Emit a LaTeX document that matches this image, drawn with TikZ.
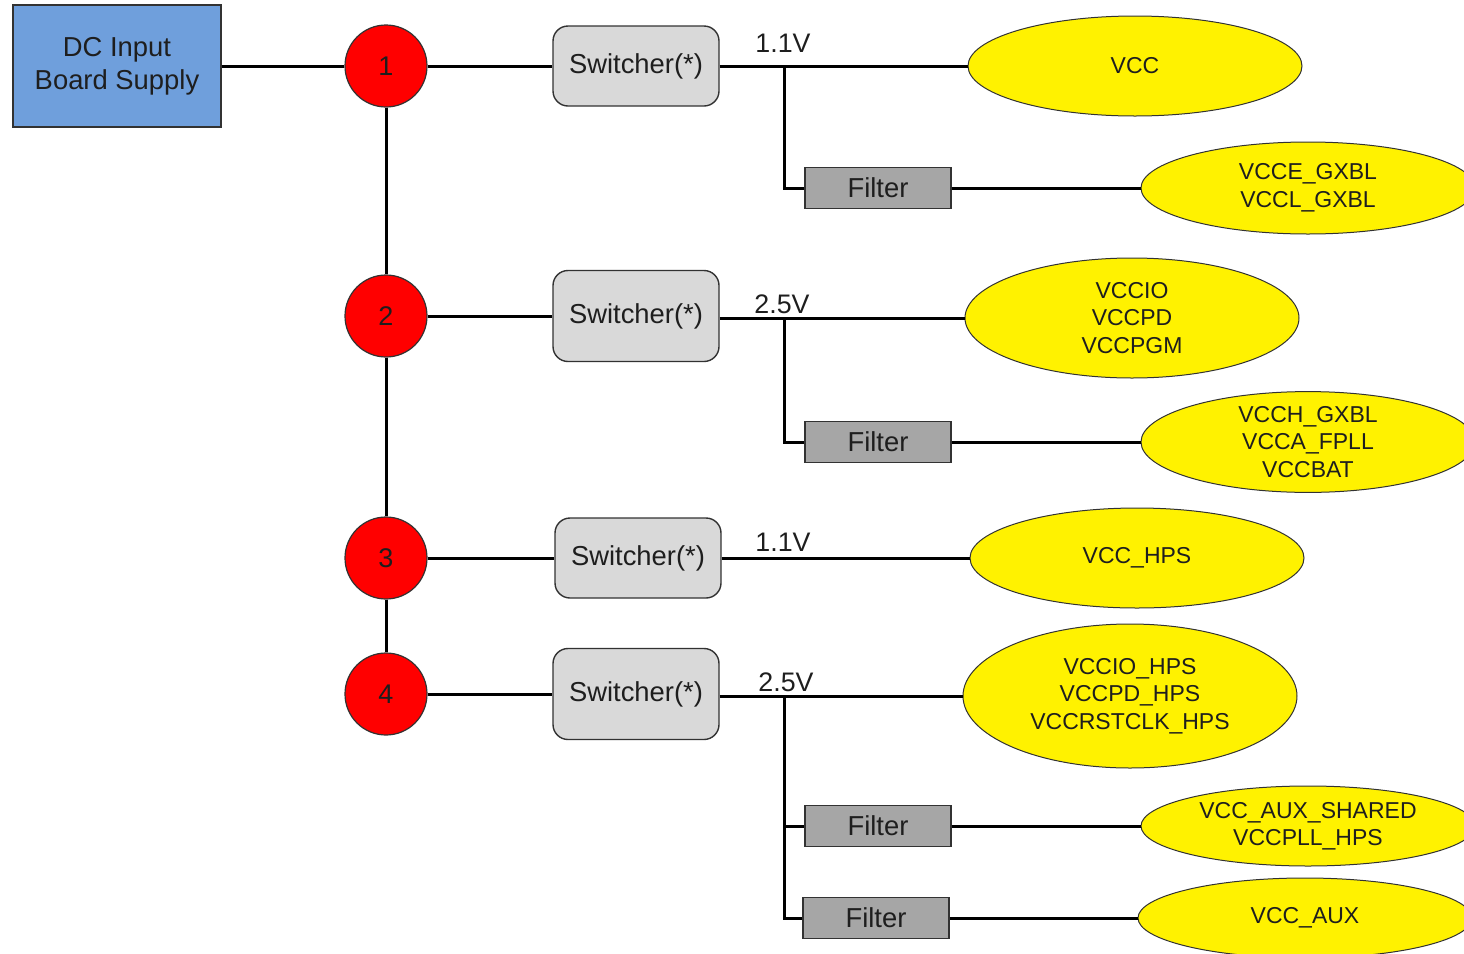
\documentclass[tikz,border=0pt]{standalone}
\usepackage{fontspec}
\setmainfont{Liberation Sans}
\usetikzlibrary{shapes.geometric}
\definecolor{boxblue}{RGB}{111,159,220}
\definecolor{swgray}{RGB}{217,217,217}
\definecolor{filgray}{RGB}{166,166,166}
\definecolor{txt}{RGB}{30,30,30}
\definecolor{edge}{RGB}{50,50,50}
\tikzset{
  x=0.5pt, y=-0.5pt,
  every node/.style={text=txt, align=center, inner sep=0pt},
  wire/.style={line width=1.5pt, black},
  dcbox/.style={draw=edge, line width=0.7pt, fill=boxblue, minimum width=104pt, minimum height=61pt, font=\fontsize{13.7}{16.5}\selectfont},
  railnode/.style={circle, draw=edge, line width=0.6pt, fill=red, minimum size=41pt, font=\fontsize{13.5}{16}\selectfont},
  swbox/.style={draw=edge, line width=0.7pt, fill=swgray, rounded corners=7.5pt, minimum width=83pt, font=\fontsize{13.7}{16}\selectfont},
  filbox/.style={draw=edge, line width=0.7pt, fill=filgray, minimum width=73pt, minimum height=20.5pt, font=\fontsize{13.7}{16}\selectfont},
  load/.style={ellipse, draw=edge, line width=0.5pt, fill=yellow, minimum width=167pt, font=\fontsize{11.5}{13.75}\selectfont},
  volt/.style={font=\fontsize{13.4}{16}\selectfont}
}
\begin{document}
\begin{tikzpicture}
\useasboundingbox (0,0) rectangle (1464,954);
% source and rails
\node[dcbox] (dc) at (117,66) {DC Input\\Board Supply};
\node[railnode] (c1) at (386,66) {1};
\node[railnode] (c2) at (386,316) {2};
\node[railnode] (c3) at (386,558) {3};
\node[railnode] (c4) at (386,694) {4};
% switchers
\node[swbox, minimum height=40pt] (sw1) at (636,66) {Switcher(*)};
\node[swbox, minimum height=45.5pt] (sw2) at (636,316) {Switcher(*)};
\node[swbox, minimum height=40pt] (sw3) at (638,558) {Switcher(*)};
\node[swbox, minimum height=45.5pt] (sw4) at (636,694) {Switcher(*)};
% voltage labels
\node[volt] (v1) at (783,43) {1.1V};
\node[volt] (v2) at (782,304) {2.5V};
\node[volt] (v3) at (783,542) {1.1V};
\node[volt] (v4) at (786,682) {2.5V};
% filters
\node[filbox] (f1) at (878,188) {Filter};
\node[filbox] (f2) at (878,442) {Filter};
\node[filbox] (f3) at (878,826) {Filter};
\node[filbox] (f4) at (876,918) {Filter};
% loads
\node[load, minimum height=50pt] (e1) at (1135,66) {VCC};
\node[load, minimum height=46pt] (e2) at (1308,188) {VCCE\_GXBL\\VCCL\_GXBL};
\node[load, minimum height=60pt] (e3) at (1132,318) {VCCIO\\VCCPD\\VCCPGM};
\node[load, minimum height=50pt] (e4) at (1308,442) {VCCH\_GXBL\\VCCA\_FPLL\\VCCBAT};
\node[load, minimum height=50pt] (e5) at (1137,558) {VCC\_HPS};
\node[load, minimum height=72pt] (e6) at (1130,696) {VCCIO\_HPS\\VCCPD\_HPS\\VCCRSTCLK\_HPS};
\node[load, minimum height=40pt] (e7) at (1308,826) {VCC\_AUX\_SHARED\\VCCPLL\_HPS};
\node[load, minimum height=40pt] (e8) at (1305,918) {VCC\_AUX};
% junction points
\coordinate (j1) at (784,66);
\coordinate (j2) at (784,318);
\coordinate (j4) at (784,696);
% wires
\draw[wire] (dc.east) -- (c1.west);
\draw[wire] (c1.south) -- (c2.north);
\draw[wire] (c2.south) -- (c3.north);
\draw[wire] (c3.south) -- (c4.north);
\draw[wire] (c1.east) -- (sw1.west);
\draw[wire] (c2.east) -- (sw2.west);
\draw[wire] (c3.east) -- (sw3.west);
\draw[wire] (c4.east) -- (sw4.west);
\draw[wire] (sw1.east |- e1.west) -- (e1.west);
\draw[wire] (sw2.east |- e3.west) -- (e3.west);
\draw[wire] (sw3.east) -- (e5.west);
\draw[wire] (sw4.east |- e6.west) -- (e6.west);
\draw[wire] (j1) |- (f1.west);
\draw[wire] (j2) |- (f2.west);
\draw[wire] (j4) |- (f3.west);
\draw[wire] (j4) |- (f4.west);
\draw[wire] (f1.east) -- (e2.west);
\draw[wire] (f2.east) -- (e4.west);
\draw[wire] (f3.east) -- (e7.west);
\draw[wire] (f4.east) -- (e8.west);
\end{tikzpicture}
\end{document}
